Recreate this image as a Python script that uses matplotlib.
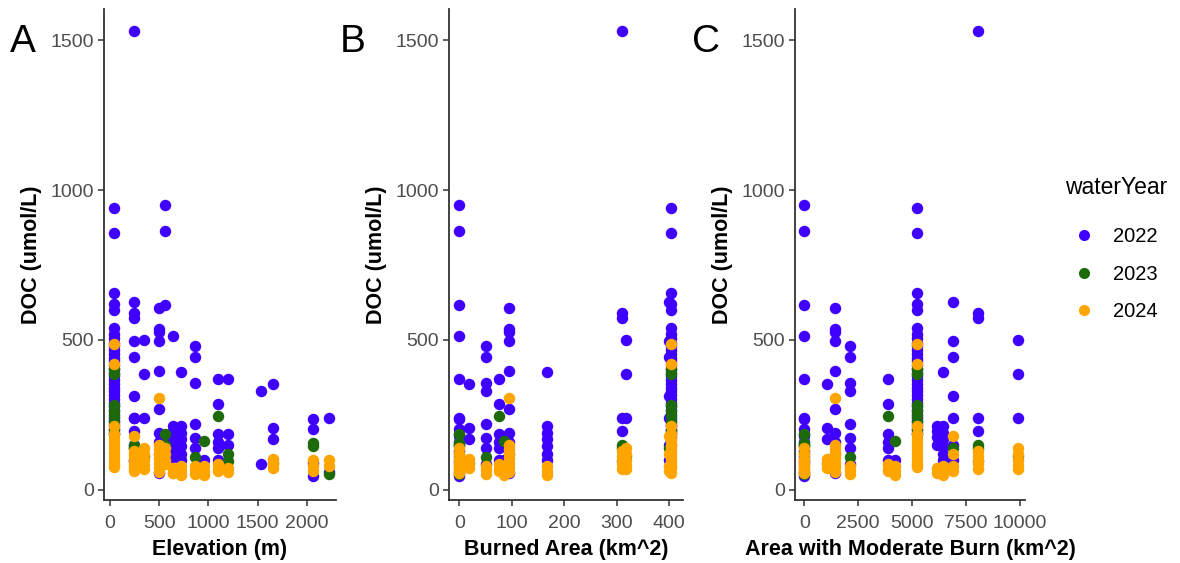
import matplotlib
matplotlib.use("Agg")
import matplotlib.pyplot as plt
from matplotlib.lines import Line2D

plt.rcParams['font.family'] = ['Liberation Sans', 'DejaVu Sans']

# Sites: elevation (m), burned area (km^2), area with moderate burn (km^2)
site_elev = [40, 244, 244, 350, 556, 640, 500, 860, 1530, 1100, 950, 720, 1660, 1200, 2060, 2220, 640]
site_burned = [404, 310, 400, 318, 0, 0, 95, 50, 50, 75, 85, 167, 18, 0, 0, 0, 404]
site_modburn = [5250, 8040, 6900, 9900, 0, 0, 1435, 2130, 2130, 3900, 4200, 6450, 1050, 0, 0, 0, 6150]

# DOC (umol/L) per site, per water year
doc_2022 = [
    [940, 856, 655, 618, 600, 538, 520, 505, 490, 478, 465, 452, 440, 428, 415, 402, 390,
     378, 365, 352, 340, 328, 315, 302, 290, 278, 265, 252, 240, 228, 215, 202, 190],
    [1530, 588, 572, 240, 195, 95],
    [625, 497, 441, 312, 240, 150, 100],
    [499, 385, 240],
    [952, 862, 617, 180, 160],
    [513, 130, 110],
    [606, 536, 525, 497, 396, 268, 190, 160, 56],
    [480, 441, 357, 218, 173, 140],
    [329, 84],
    [370, 285, 184, 160, 139, 100],
    [100],
    [391, 212, 190, 170, 145, 120, 100],
    [352, 206, 168],
    [368, 184, 150],
    [234, 201, 90, 45],
    [238, 60],
    [212, 195, 175, 150],
]
doc_2023 = [
    [402, 385, 282, 262, 245, 225, 200, 185],
    [150, 140],
    [140],
    [112],
    [184, 150],
    [],
    [120],
    [110],
    [],
    [245],
    [162],
    [],
    [88],
    [117, 95],
    [156, 145],
    [52],
    [],
]
doc_2024 = [
    [487, 418, 212, 185, 170, 158, 146, 134, 122, 110, 98, 86, 75],
    [128, 112, 98, 84, 70],
    [179, 117, 78, 62],
    [140, 120, 100, 82, 67],
    [140, 120, 100, 85],
    [70, 55],
    [305, 150, 135, 120, 105, 90, 75, 60],
    [80, 65, 52],
    [],
    [84, 70, 61],
    [78, 62, 50],
    [78, 62, 50],
    [102, 86, 72],
    [72, 58],
    [100, 80, 61],
    [100, 80],
    [72, 55],
]

years = ['2022', '2023', '2024']
year_docs = [doc_2022, doc_2023, doc_2024]
colors = ['#4000FF', '#1D6A0B', '#FFA500']

panels = [
    (site_elev, 'Elevation (m)', 'A', [0, 500, 1000, 1500, 2000], (-61, 2295)),
    (site_burned, 'Burned Area (km^2)', 'B', [0, 100, 200, 300, 400], (-20, 426)),
    (site_modburn, 'Area with Moderate Burn (km^2)', 'C', [0, 2500, 5000, 7500, 10000], (-430, 10240)),
]
ax_left = [104, 449, 795]
ax_right = [336, 683, 1025]
letter_x = [10, 340, 692]

W, H = 1180, 563
fig = plt.figure(figsize=(W / 100, H / 100), dpi=100)

for i, (xvals, xlabel, letter, xticks, xlim) in enumerate(panels):
    ax = fig.add_axes([ax_left[i] / W, (H - 500) / H,
                       (ax_right[i] - ax_left[i]) / W, (500 - 9) / H])
    for docs, col in zip(year_docs, colors):
        xs, ys = [], []
        for s, vals in enumerate(docs):
            for v in vals:
                xs.append(xvals[s])
                ys.append(v)
        ax.scatter(xs, ys, s=68, color=col, linewidths=0, zorder=3)

    ax.set_xlim(*xlim)
    ax.set_ylim(-35, 1605)
    ax.set_xticks(xticks)
    ax.set_yticks([0, 500, 1000, 1500])
    ax.set_xlabel(xlabel, fontsize=15.5, fontweight='bold', labelpad=5)
    ax.set_ylabel('DOC (umol/L)', fontsize=15.5, fontweight='bold', labelpad=6)
    ax.tick_params(axis='both', labelsize=14, labelcolor='#4D4D4D', color='#333333',
                   length=4, width=1.1)
    ax.tick_params(axis='x', pad=7)
    ax.tick_params(axis='y', pad=3)
    for side in ['top', 'right']:
        ax.spines[side].set_visible(False)
    for side in ['left', 'bottom']:
        ax.spines[side].set_color('#333333')
        ax.spines[side].set_linewidth(1.3)

    fig.text(letter_x[i] / W, 1 - 42 / H, letter, fontsize=28, va='center', ha='left')

handles = [Line2D([], [], marker='o', linestyle='', markersize=8, markerfacecolor=c,
                  markeredgewidth=0) for c in colors]
leg = fig.legend(handles, years, title='waterYear', loc='upper left',
                 bbox_to_anchor=(1055 / W, 1 - 166 / H), frameon=False,
                 fontsize=14.5, title_fontsize=16.5, labelspacing=0.92,
                 handletextpad=0.5, handlelength=1.9, borderpad=0)
leg._legend_box.align = 'left'
leg._legend_box.sep = 0.92 * 14.5 + 7

fig.savefig('out.png', dpi=100)
